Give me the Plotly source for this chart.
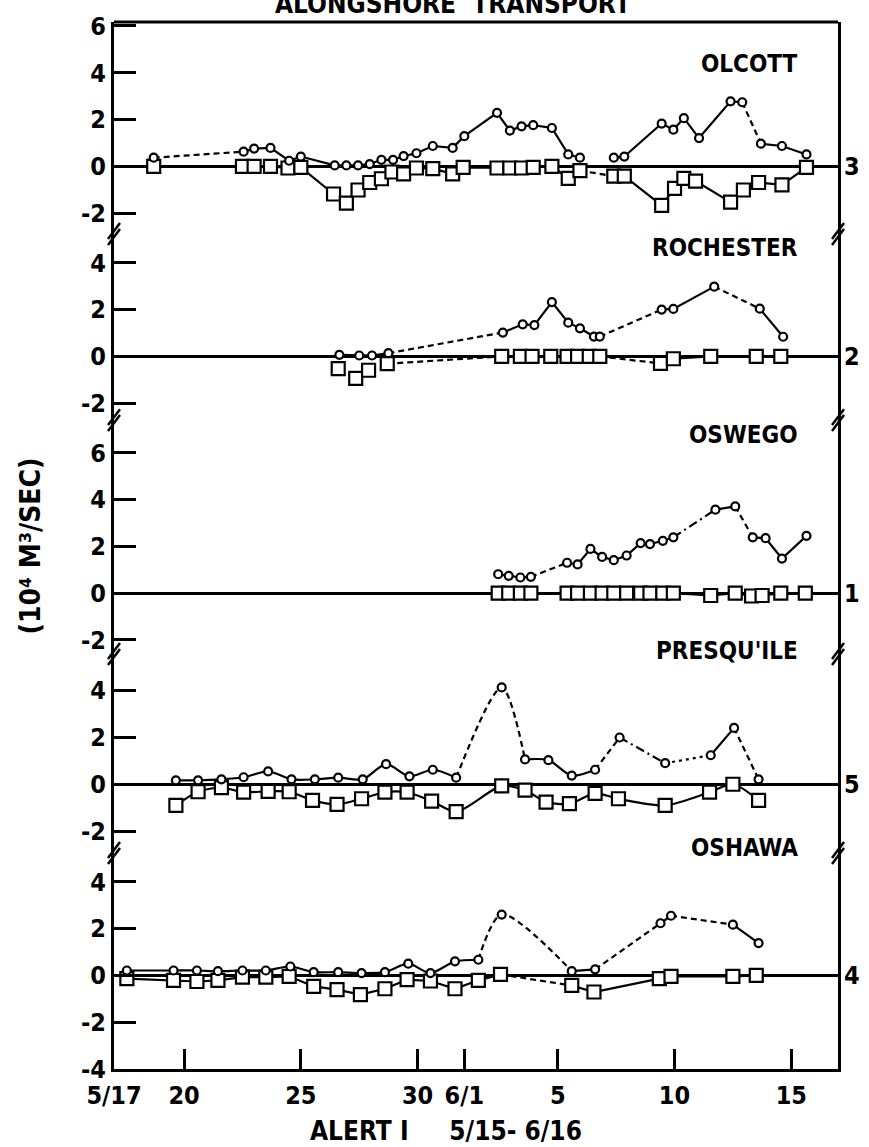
import plotly.graph_objects as go

# ---------------- DATA (day number: May 17 = 17, June 1 = 32) ----------------
stations = ["OLCOTT", "ROCHESTER", "OSWEGO", "PRESQU'ILE", "OSHAWA"]
station_numbers = ["3", "2", "1", "5", "4"]

x_tick_vals = [17, 20, 25, 30, 32, 36, 41, 46]
x_tick_text = ["5/17", "20", "25", "30", "6/1", "5", "10", "15"]

olcott_circle_days = [18.7, 22.55, 23.0, 23.7, 24.5, 25.0, 26.45, 26.95, 27.45, 27.95, 28.45, 28.95,
                      29.4, 29.95, 30.65, 31.5, 32.0, 33.4, 33.95, 34.45, 34.95, 35.75, 36.45, 36.95,
                      38.4, 38.85, 40.45, 40.95, 41.4, 42.05, 43.4, 43.9, 44.7, 45.6, 46.65]
olcott_circle_vals = [0.37, 0.63, 0.76, 0.79, 0.24, 0.42, 0.04, 0.04, 0.04, 0.1, 0.28, 0.28,
                      0.44, 0.56, 0.87, 0.79, 1.29, 2.29, 1.53, 1.71, 1.76, 1.64, 0.51, 0.37,
                      0.37, 0.42, 1.83, 1.57, 2.06, 1.21, 2.78, 2.74, 0.97, 0.87, 0.51]
olcott_square_days = [18.7, 22.5, 23.0, 23.7, 24.45, 25.0, 26.4, 26.95, 27.45, 27.95, 28.45, 28.9,
                      29.4, 29.95, 30.65, 31.5, 31.95, 33.4, 33.95, 34.45, 34.95, 35.75, 36.45, 36.95,
                      38.4, 38.85, 40.45, 41.0, 41.4, 41.9, 43.4, 43.95, 44.6, 45.6, 46.65]
olcott_square_vals = [0.0, 0.0, 0.0, 0.0, -0.07, -0.04, -1.18, -1.57, -1.01, -0.69, -0.53, -0.24,
                      -0.32, -0.07, -0.1, -0.32, -0.04, -0.07, -0.07, -0.07, -0.04, 0.0, -0.51, -0.18,
                      -0.42, -0.42, -1.67, -0.94, -0.51, -0.63, -1.53, -1.01, -0.69, -0.79, -0.04]

rochester_circle_days = [26.65, 27.5, 28.05, 28.75, 33.65, 34.5, 35.0, 35.75, 36.45, 36.95, 37.55,
                         37.8, 40.45, 40.95, 42.7, 44.65, 45.65]
rochester_circle_vals = [0.07, 0.04, 0.04, 0.14, 1.02, 1.37, 1.34, 2.32, 1.44, 1.2, 0.85,
                         0.85, 2.0, 2.03, 2.98, 2.04, 0.84]
rochester_square_days = [26.6, 27.35, 27.9, 28.7, 33.6, 34.4, 34.9, 35.7, 36.4, 36.85, 37.35,
                         37.8, 40.4, 40.95, 42.55, 44.5, 45.55]
rochester_square_vals = [-0.52, -0.94, -0.59, -0.31, 0.0, 0.0, 0.0, 0.0, 0.0, 0.0, 0.0,
                         0.0, -0.3, -0.1, 0.0, 0.0, 0.0]

oswego_circle_days = [33.45, 33.9, 34.4, 34.85, 36.4, 36.85, 37.4, 37.9, 38.4, 38.95, 39.55, 39.95,
                      40.5, 40.95, 42.75, 43.6, 44.35, 44.9, 45.6, 46.65]
oswego_circle_vals = [0.81, 0.74, 0.67, 0.70, 1.30, 1.23, 1.89, 1.55, 1.41, 1.61, 2.14, 2.10,
                      2.24, 2.39, 3.57, 3.71, 2.39, 2.35, 1.48, 2.45]
oswego_square_days = [33.45, 33.9, 34.4, 34.85, 36.4, 36.85, 37.4, 37.9, 38.4, 38.95, 39.55, 39.95,
                      40.5, 40.95, 42.55, 43.6, 44.3, 44.75, 45.55, 46.6]
oswego_square_vals = [0.0, 0.0, 0.0, 0.0, 0.0, 0.0, 0.0, 0.0, 0.0, 0.0, 0.0, 0.0,
                      0.0, 0.0, -0.1, 0.0, -0.12, -0.1, 0.0, 0.0]

presquile_circle_days = [19.65, 20.6, 21.6, 22.55, 23.6, 24.6, 25.6, 26.6, 27.65, 28.65, 29.65, 30.65,
                         31.65, 33.6, 34.6, 35.6, 36.6, 37.6, 38.65, 40.6, 42.55, 43.55, 44.6]
presquile_circle_vals = [0.17, 0.17, 0.21, 0.30, 0.55, 0.21, 0.21, 0.28, 0.21, 0.86, 0.34, 0.62,
                         0.28, 4.14, 1.06, 1.03, 0.37, 0.62, 2.0, 0.90, 1.24, 2.41, 0.21]
presquile_square_days = [19.65, 20.6, 21.6, 22.55, 23.6, 24.5, 25.5, 26.55, 27.6, 28.6, 29.55, 30.6,
                         31.65, 33.6, 34.6, 35.5, 36.5, 37.6, 38.6, 40.6, 42.5, 43.5, 44.6]
presquile_square_vals = [-0.90, -0.32, -0.14, -0.34, -0.30, -0.32, -0.69, -0.86, -0.62, -0.34, -0.34, -0.72,
                         -1.17, -0.07, -0.25, -0.76, -0.83, -0.39, -0.62, -0.90, -0.34, 0.0, -0.69]

oshawa_circle_days = [17.55, 19.55, 20.55, 21.45, 22.5, 23.5, 24.55, 25.55, 26.6, 27.6, 28.6, 29.6,
                      30.55, 31.6, 32.6, 33.6, 36.6, 37.6, 40.4, 40.85, 43.5, 44.6]
oshawa_circle_vals = [0.21, 0.21, 0.21, 0.18, 0.21, 0.21, 0.38, 0.14, 0.14, 0.10, 0.14, 0.50,
                      0.10, 0.60, 0.67, 2.60, 0.18, 0.26, 2.23, 2.55, 2.17, 1.38]
oshawa_square_days = [17.55, 19.55, 20.55, 21.45, 22.5, 23.5, 24.5, 25.55, 26.55, 27.55, 28.6, 29.55,
                      30.55, 31.6, 32.6, 33.55, 36.6, 37.55, 40.35, 40.85, 43.5, 44.5]
oshawa_square_vals = [-0.14, -0.21, -0.26, -0.21, -0.07, -0.07, -0.04, -0.47, -0.61, -0.82, -0.57, -0.18,
                      -0.24, -0.57, -0.21, 0.04, -0.43, -0.71, -0.14, -0.04, -0.04, 0.0]

y_ranges = [[-2.89, 6.17], [-2.72, 5.23], [-2.60, 7.40], [-2.94, 5.57], [-4.0, 5.23]]
y_tick_vals = [[-2, 0, 2, 4, 6], [-2, 0, 2, 4], [-2, 0, 2, 4, 6], [-2, 0, 2, 4], [-4, -2, 0, 2, 4]]
y_tick_text = [["-2", "0", "2", "4", "6"], ["-2", "0", "2", "4"], ["-2", "0", "2", "4", "6"],
               ["-2", "0", "2", "4"], ["-4", "-2", "0", "2", "4"]]

# ---------------- STYLE ----------------
# line style of each segment between consecutive points (default solid); 'g' = no line
seg_styles = {
    ("OLCOTT", "c"): {0: "d", 23: "g", 31: "d"},
    ("OLCOTT", "s"): {23: "d"},
    ("ROCHESTER", "c"): {3: "d", 11: "d", 14: "d"},
    ("ROCHESTER", "s"): {0: "g", 1: "g", 2: "g", 3: "d", 11: "d"},
    ("OSWEGO", "c"): {3: "d", 13: "dd", 15: "d"},
    ("OSWEGO", "s"): {},
    ("PRESQU'ILE", "c"): {12: "d", 13: "d", 17: "d", 18: "dd", 19: "dot", 21: "d"},
    ("PRESQU'ILE", "s"): {},
    ("OSHAWA", "c"): {14: "d", 15: "d", 17: "d", 19: "d"},
    ("OSHAWA", "s"): {15: "d"},
}
spline_series = {("PRESQU'ILE", "c"), ("PRESQU'ILE", "s"), ("OSHAWA", "c")}
dash_map = {"s": "solid", "d": "6px,4px", "dd": "9px,4px,2px,4px", "dot": "3px,4px"}

series = {
    "OLCOTT": (olcott_circle_days, olcott_circle_vals, olcott_square_days, olcott_square_vals),
    "ROCHESTER": (rochester_circle_days, rochester_circle_vals, rochester_square_days, rochester_square_vals),
    "OSWEGO": (oswego_circle_days, oswego_circle_vals, oswego_square_days, oswego_square_vals),
    "PRESQU'ILE": (presquile_circle_days, presquile_circle_vals, presquile_square_days, presquile_square_vals),
    "OSHAWA": (oshawa_circle_days, oshawa_circle_vals, oshawa_square_days, oshawa_square_vals),
}

FONT = "DejaVu Sans Condensed, Liberation Sans Narrow, Arial Narrow, sans-serif"
BLACK = "#000000"

W, H = 869, 1147
ML, MR, MT, MB = 114, 31, 17, 78
PW, PH = W - ML - MR, H - MT - MB
# panel boundaries in pixels from top of figure
bounds_px = [17, 230, 417, 652, 852, 1069]
domains = []
for i in range(5):
    top = (MT + PH - bounds_px[i]) / PH
    bot = (MT + PH - bounds_px[i + 1]) / PH
    domains.append([max(0.0, bot), min(1.0, top)])

fig = go.Figure()


def runs(n, styles):
    """group consecutive segments of same style into runs of point indices"""
    out = []
    cur_style, start = None, 0
    for k in range(n - 1):
        st = styles.get(k, "s")
        if st != cur_style:
            if cur_style is not None:
                out.append((cur_style, start, k))
            cur_style, start = st, k
    if cur_style is not None:
        out.append((cur_style, start, n - 1))
    return out


for i, name in enumerate(stations):
    yref = "y" if i == 0 else f"y{i + 1}"
    cd, cv, sd, sv = series[name]
    for kind, xs, ys, sym, msize in (("s", sd, sv, "square", 13), ("c", cd, cv, "circle", 8)):
        key = (name, kind)
        shape = "spline" if key in spline_series else "linear"
        for st, a, b in runs(len(xs), seg_styles[key]):
            if st == "g":
                continue
            fig.add_trace(go.Scatter(
                x=xs[a:b + 1], y=ys[a:b + 1], mode="lines", xaxis="x", yaxis=yref,
                line=dict(color=BLACK, width=2.2, dash=dash_map[st], shape=shape, smoothing=0.8),
                showlegend=False, hoverinfo="skip"))
        fig.add_trace(go.Scatter(
            x=xs, y=ys, mode="markers", xaxis="x", yaxis=yref,
            marker=dict(symbol=sym, size=msize, color="white", line=dict(color=BLACK, width=2.2)),
            showlegend=False, hoverinfo="skip"))

layout = dict(
    width=W, height=H,
    margin=dict(l=ML, r=MR, t=MT, b=MB),
    paper_bgcolor="white", plot_bgcolor="white",
    font=dict(family=FONT, color=BLACK, size=25),
    showlegend=False,
    xaxis=dict(
        range=[17, 48], anchor="y5", domain=[0, 1],
        tickmode="array", tickvals=x_tick_vals, ticktext=x_tick_text,
        ticks="inside", ticklen=20, tickwidth=2.5, tickcolor=BLACK,
        showline=True, linewidth=3, linecolor=BLACK, showgrid=False, zeroline=False,
        ticklabelstandoff=2,
        tickfont=dict(family=FONT, size=25, color=BLACK, weight="bold"),
    ),
)
for i in range(5):
    key = "yaxis" if i == 0 else f"yaxis{i + 1}"
    layout[key] = dict(
        domain=domains[i], range=y_ranges[i], anchor="x",
        tickmode="array", tickvals=y_tick_vals[i], ticktext=y_tick_text[i],
        ticks="inside", ticklen=22, tickwidth=2.5, tickcolor=BLACK,
        showline=True, mirror=True, linewidth=3, linecolor=BLACK,
        showgrid=False, zeroline=True, zerolinecolor=BLACK, zerolinewidth=3,
        tickfont=dict(family=FONT, size=25, color=BLACK, weight="bold"),
    )

annotations = []
shapes = []
# top border
shapes.append(dict(type="line", xref="paper", yref="paper", x0=0, x1=1, y0=1, y1=1,
                   line=dict(color=BLACK, width=3)))
# station labels and station numbers
label_px = [59, 244, 432, 649, 847]
zero_px = [162, 353, 591, 783, 975]
for i, name in enumerate(stations):
    yl = (MT + PH - label_px[i]) / PH
    annotations.append(dict(text=name, xref="paper", yref="paper", x=(800 - ML) / PW, y=yl,
                            xanchor="right", yanchor="middle", showarrow=False,
                            font=dict(family=FONT, size=24, color=BLACK, weight="bold")))
    yn = (MT + PH - zero_px[i]) / PH
    annotations.append(dict(text=station_numbers[i], xref="paper", yref="paper", x=1.0, y=yn,
                            xanchor="left", yanchor="middle", xshift=4, showarrow=False,
                            font=dict(family=FONT, size=25, color=BLACK, weight="bold")))
# break marks on both axes
for bp in bounds_px[1:5]:
    yc = (MT + PH - bp) / PH
    for xc in (0.0, 1.0):
        for off in (-3, 3):
            dx = 6 / PW
            dy = 8 / PH
            oy = off / PH
            shapes.append(dict(type="line", xref="paper", yref="paper",
                               x0=xc - dx, y0=yc - dy + oy, x1=xc + dx, y1=yc + dy + oy,
                               line=dict(color=BLACK, width=2.5)))
# title (cut at top edge), y axis title, bottom caption
annotations.append(dict(text="ALONGSHORE  TRANSPORT", xref="paper", yref="paper",
                        x=(453 - ML) / PW, y=1 + 1 / PH, xanchor="center", yanchor="bottom",
                        showarrow=False, font=dict(family=FONT, size=26, color=BLACK, weight="bold")))
annotations.append(dict(text="(10⁴ M³/SEC)", xref="paper", yref="paper",
                        x=(30 - ML) / PW, y=(MT + PH - 544) / PH, xanchor="center", yanchor="middle",
                        textangle=-90, showarrow=False,
                        font=dict(family=FONT, size=28, color=BLACK, weight="bold")))
annotations.append(dict(text="ALERT I     5/15- 6/16", xref="paper", yref="paper",
                        x=(446 - ML) / PW, y=(MT + PH - 1131) / PH, xanchor="center", yanchor="middle",
                        showarrow=False, font=dict(family=FONT, size=26, color=BLACK, weight="bold")))
layout["annotations"] = annotations
layout["shapes"] = shapes
fig.update_layout(**layout)
fig.write_html("out.html")
